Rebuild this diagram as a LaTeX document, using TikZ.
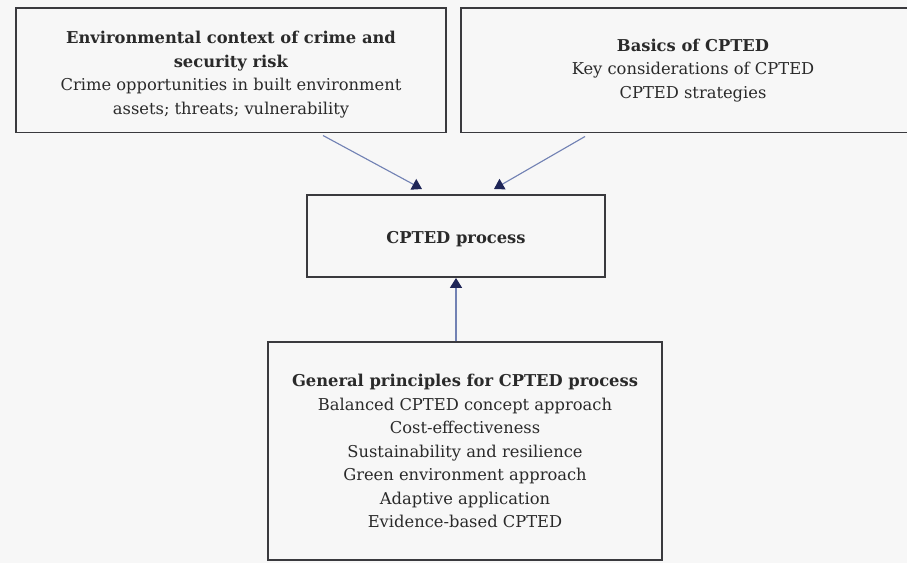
\documentclass[tikz,border=0pt]{standalone}
\usepackage{fontspec}
\setmainfont{DejaVu Serif}
\usetikzlibrary{arrows.meta,calc}
\definecolor{bordergray}{HTML}{3A3A3E}
\definecolor{linkblue}{HTML}{7282B4}
\definecolor{tipnavy}{HTML}{1E2557}
\definecolor{paper}{HTML}{F7F7F7}
\definecolor{inkgray}{HTML}{2A2A2A}

\begin{document}
\begin{tikzpicture}[x=0.025cm,y=-0.025cm,block/.style ={rectangle, draw=bordergray, line width=1.4pt, text=inkgray, align=center, inner sep=0pt, font=\fontsize{11.6}{16.7}\selectfont}, link/.style={draw=linkblue, line width=0.8pt, -{Triangle[color=tipnavy,length=7pt,width=8.5pt]}}]
\useasboundingbox (0,0) rectangle (907,563);
\fill[paper] (0,0) rectangle (907,563);
\clip (0,0) rectangle (907,563);
\draw (231,70.5) node[block,minimum width=10.75cm,minimum height=3.1cm] (A) {\rule{0pt}{14.4pt}\textbf{Environmental context of crime and}\\ \textbf{security risk}\\ Crime opportunities in built environment\\ assets; threats; vulnerability};
\draw (693,70.5) node[block,minimum width=11.6cm,minimum height=3.1cm] (B) {\textbf{Basics of CPTED}\\ Key considerations of CPTED\\ CPTED strategies};
\draw (456,236) node[block,minimum width=7.45cm,minimum height=2.05cm,text height=14pt,text depth=2.8pt] (C) {\textbf{CPTED process}};
\draw (465,451) node[block,minimum width=9.85cm,minimum height=5.425cm] (D) {\textbf{General principles for CPTED process}\\ Balanced CPTED concept approach\\ Cost-effectiveness\\ Sustainability and resilience\\ Green environment approach\\ Adaptive application\\ Evidence-based CPTED};
\draw[link] ($(A.south)+(92,2)$)--($(C.north)+(-34,-5)$);
\draw[link] ($(B.south)+(-108,3)$)--($(C.north)+(38,-5)$);
\draw[link] (C.south |- D.north)--(C.south);
\end{tikzpicture}
\end{document}
